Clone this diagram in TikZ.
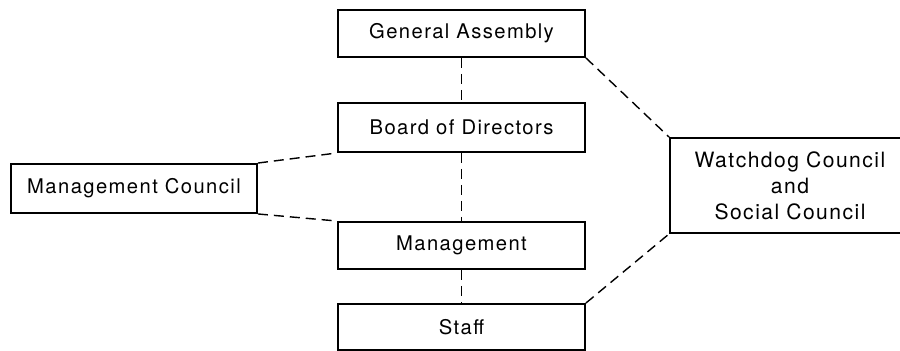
\documentclass[tikz,border=0pt]{standalone}
\usepackage{fontspec}
\setsansfont{TeX Gyre Heros}[LetterSpace=7]
\usetikzlibrary{positioning}

\begin{document}
\begin{tikzpicture}[
      x = 0.02cm, y = -0.02cm, % pixel grid
      unit/.style = {draw = black, line width = 1.1pt, rectangle,
        minimum width = 4.94cm, minimum height = 0.94cm,
        font = \sffamily\fontsize{11.5}{14}\selectfont, align = center},
      link/.style = {line width = 0.8pt, dash pattern = on 0.2cm off 0.12cm}
      ]

      \useasboundingbox (0,0) rectangle (900,351);

      % main chain
      \node[unit] (ga) at (461.5,33.5) {General Assembly};
      \node[unit, minimum height = 0.98cm] (bd) at (461.5,127.5) {Board of Directors};
      \node[unit] (mg) at (461.5,245.5) {Management};
      \node[unit, minimum height = 0.92cm] (st) at (461.5,327) {Staff};

      % side councils
      \node[unit, minimum width = 4.92cm, minimum height = 0.98cm] (mc) at (134,188.5) {Management Council};
      \node[unit, minimum width = 4.8cm, minimum height = 1.9cm, text width = 4.4cm,
        font = \sffamily\fontsize{12}{14.7}\selectfont] (wd) at (790,185.5)
        {Watchdog Council\\and\\Social Council};

      \draw[link] (ga) -- (bd);
      \draw[link] (bd) -- (mg);
      \draw[link] (mg) -- (st);
      \draw[link] (mc.north east) -- (bd.south west);
      \draw[link] (mc.south east) -- (mg.north west);
      \draw[link] (ga.south east) -- (wd.north west);
      \draw[link] (st.north east) -- (wd.south west);

    \end{tikzpicture}
\end{document}
